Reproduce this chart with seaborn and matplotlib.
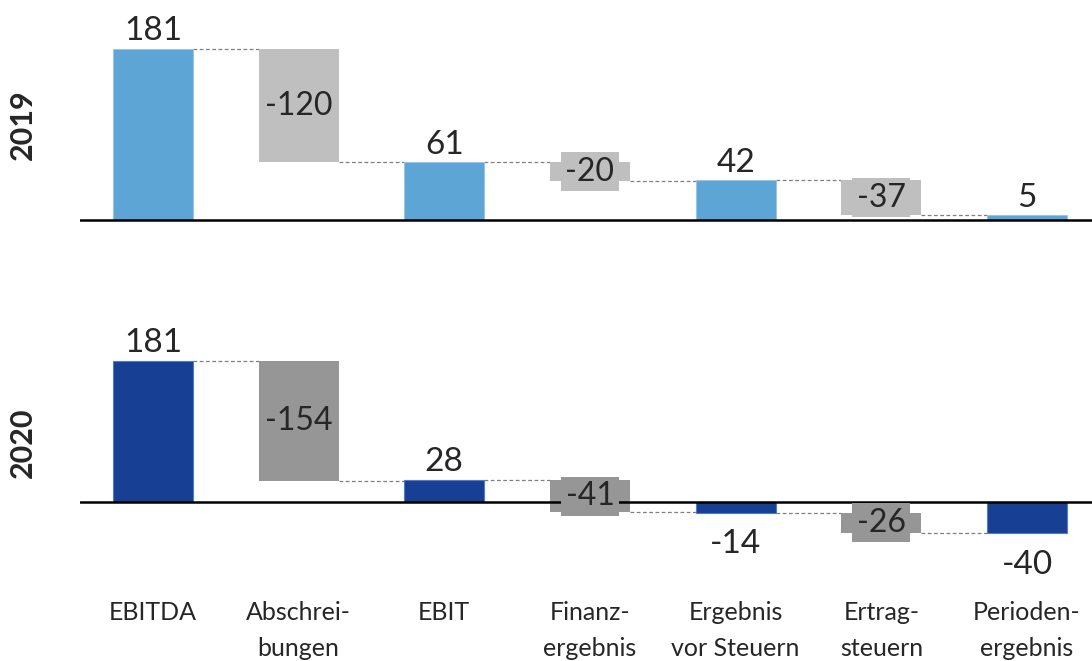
import numpy as np
import pandas as pd
import matplotlib
matplotlib.use("Agg")
import matplotlib.pyplot as plt
import seaborn as sns

# Data
categories = ["EBITDA", "Abschrei-\nbungen", "EBIT", "Finanz-\nergebnis",
              "Ergebnis\nvor Steuern", "Ertrag-\nsteuern", "Perioden-\nergebnis"]
is_total = [True, False, True, False, True, False, True]
values_2019 = [181, -120, 61, -20, 42, -37, 5]
values_2020 = [181, -154, 28, -41, -14, -26, -40]
years = ["2019", "2020"]

sns.set_style("white")
plt.rcParams["font.family"] = ["Lato", "DejaVu Sans"]


def waterfall(values):
    """Bottoms, heights and connector levels for a waterfall."""
    bottoms, heights, levels = [], [], []
    running = 0
    for v, tot in zip(values, is_total):
        if tot:
            bottoms.append(0)
            running = v
        else:
            bottoms.append(running)
            running = running + v
        heights.append(v)
        levels.append(running)
    return bottoms, heights, levels


def draw_panel(ax, values, total_color, delta_color, total_edge, ylim):
    bottoms, heights, levels = waterfall(values)
    df = pd.DataFrame({"cat": categories, "height": heights})
    sns.barplot(data=df, x="cat", y="height", bottom=bottoms, width=0.55,
                errorbar=None, color=total_color, ax=ax, zorder=2)
    for patch, tot in zip(ax.patches, is_total):
        if tot:
            patch.set_facecolor(total_color)
            patch.set_edgecolor(total_edge)
            patch.set_linewidth(0.8)
        else:
            patch.set_facecolor(delta_color)
            patch.set_edgecolor("none")

    # dashed connectors between neighbouring bars
    half = 0.55 / 2
    for i in range(len(values) - 1):
        ax.plot([i + half, i + 1 - half], [levels[i], levels[i]],
                color="#7F7F7F", lw=0.9, ls=(0, (3, 2)), zorder=1)

    # value labels
    for i, (v, b, tot) in enumerate(zip(values, bottoms, is_total)):
        if tot:
            if v >= 0:
                ax.annotate(f"{v}", (i, v), xytext=(0, 2), textcoords="offset points",
                            ha="center", va="bottom", fontsize=24, zorder=4)
            else:
                ax.annotate(f"{v}", (i, v), xytext=(0, -12), textcoords="offset points",
                            ha="center", va="top", fontsize=24, zorder=4)
        else:
            ax.text(i, b + v / 2, f"{v}", ha="center", va="center", fontsize=23,
                    zorder=4, bbox=dict(boxstyle="square,pad=0.14",
                                        facecolor=delta_color, edgecolor="none"))

    ax.axhline(0, color="black", lw=1.8, zorder=3)
    ax.set_xlim(-0.5, 6.446)
    ax.set_ylim(*ylim)
    ax.set_xlabel("")
    ax.set_ylabel("")
    ax.set_yticks([])
    sns.despine(ax=ax, left=True, bottom=True)


fig = plt.figure(figsize=(10.92, 6.61), dpi=100)
ax1 = fig.add_axes([0.0733, 0.660, 0.9267, 0.336])
ax2 = fig.add_axes([0.0733, 0.170, 0.9267, 0.3064])

draw_panel(ax1, values_2019, "#5DA5D5", "#BFBFBF", "#9DC3E6", (-5, 230))
draw_panel(ax2, values_2020, "#174094", "#969696", "#4F7BC8", (-60, 200))

ax1.tick_params(axis="x", length=0, labelbottom=False)
ax2.tick_params(axis="x", length=0, pad=38, labelsize=18)
for lab in ax2.get_xticklabels():
    lab.set_linespacing(1.65)

fig.text(0.021, 0.811, years[0], rotation=90, ha="center", va="center",
         fontsize=22, fontweight="bold")
fig.text(0.021, 0.330, years[1], rotation=90, ha="center", va="center",
         fontsize=22, fontweight="bold")

fig.savefig("out.png", dpi=100)
